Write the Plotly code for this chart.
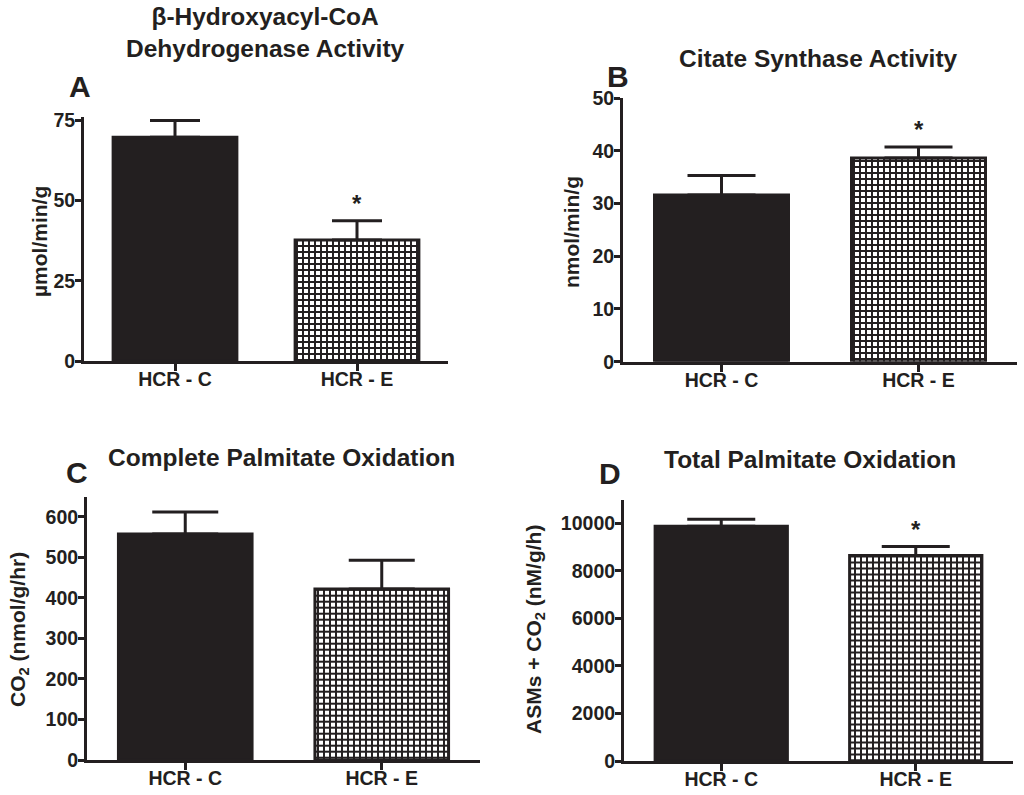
import plotly.graph_objects as go

W, H = 1024, 795
ink = '#231f20'
fam = 'Liberation Sans, Arial, sans-serif'

groups = ['HCR - C', 'HCR - E']

# panel A: beta-hydroxyacyl-CoA dehydrogenase (umol/min/g)
had_mean = [69.7, 37.7]
had_sem = [5.2, 6.0]
had_sig = [False, True]

# panel B: citrate synthase (nmol/min/g)
cs_mean = [31.6, 38.6]
cs_sem = [3.7, 2.1]
cs_sig = [False, True]

# panel C: complete palmitate oxidation, CO2 (nmol/g/hr)
co2_mean = [558, 422]
co2_sem = [54, 71]
co2_sig = [False, False]

# panel D: total palmitate oxidation, ASMs + CO2 (nM/g/h)
tot_mean = [9880, 8640]
tot_sem = [290, 380]
tot_sig = [False, True]

px = lambda x: x / W
py = lambda y: 1 - y / H

panels = [
    dict(mean=had_mean, sem=had_sem, sig=had_sig, xs=(84, 448), ys=(117, 361), yr=[0, 76], dt=25, cap=25,
         ytitle='µmol/min/g', ytx=40, yty=242),
    dict(mean=cs_mean, sem=cs_sem, sig=cs_sig, xs=(623, 1017), ys=(98, 361.7), yr=[0, 50], dt=10, cap=34,
         ytitle='nmol/min/g', ytx=572, yty=232),
    dict(mean=co2_mean, sem=co2_sem, sig=co2_sig, xs=(87, 480), ys=(496.7, 760), yr=[0, 650], dt=100, cap=33,
         ytitle='CO<sub>2</sub> (nmol/g/hr)', ytx=19, yty=630),
    dict(mean=tot_mean, sem=tot_sem, sig=tot_sig, xs=(624, 1013), ys=(499.5, 761), yr=[0, 11000], dt=2000, cap=34,
         ytitle='ASMs + CO<sub>2</sub> (nM/g/h)', ytx=535, yty=630),
]

fig = go.Figure()
annotations = []

for i, p in enumerate(panels):
    n = '' if i == 0 else str(i + 1)
    for j, g in enumerate(groups):
        if j == 0:
            mk = dict(color=ink, line=dict(color=ink, width=3))
        else:
            mk = dict(color='white', line=dict(color=ink, width=3),
                      pattern=dict(shape='+', fgcolor=ink, bgcolor='white', size=6, solidity=0.55,
                                   fillmode='replace'))
        fig.add_trace(go.Bar(
            x=[g], y=[p['mean'][j]], width=0.68, marker=mk,
            error_y=dict(type='data', symmetric=False, array=[p['sem'][j]], arrayminus=[0],
                         color=ink, thickness=3, width=p['cap']),
            xaxis='x' + n, yaxis='y' + n, showlegend=False, hoverinfo='skip'))
    ax = dict(showline=True, linewidth=3, linecolor=ink, ticks='outside', tickwidth=3, tickcolor=ink,
              showgrid=False, zeroline=False, automargin=False,
              tickfont=dict(family=fam, size=19.5, color=ink, weight='bold'))
    fig.layout['xaxis' + n] = dict(ax, domain=[px(p['xs'][0]), px(p['xs'][1])], range=[-0.5, 1.5],
                                   ticklen=7, ticklabelstandoff=-8, anchor='y' + n, type='category',
                                   categoryorder='array', categoryarray=groups)
    fig.layout['yaxis' + n] = dict(ax, domain=[py(p['ys'][1]), py(p['ys'][0])], range=p['yr'],
                                   dtick=p['dt'], ticklen=6, ticklabelstandoff=-4, anchor='x' + n,
                                   tickformat='d')
    annotations.append(dict(text=p['ytitle'], x=px(p['ytx']), y=py(p['yty']), xref='paper', yref='paper',
                            xanchor='center', yanchor='middle', textangle=-90, showarrow=False,
                            font=dict(family=fam, size=21, color=ink, weight='bold')))
    for g, m, s, sig in zip(groups, p['mean'], p['sem'], p['sig']):
        if sig:
            annotations.append(dict(text='*', x=g, y=m + s, xref='x' + n, yref='y' + n,
                                    xanchor='center', yanchor='bottom', yshift=2, showarrow=False,
                                    font=dict(family=fam, size=24, color=ink, weight='bold')))

titles = [
    ('β-Hydroxyacyl-CoA<br>Dehydrogenase Activity', 265, 33),
    ('Citate Synthase Activity', 818, 59),
    ('Complete Palmitate Oxidation', 281, 457),
    ('Total Palmitate Oxidation', 810, 459),
]
for t, x, y in titles:
    annotations.append(dict(text=t, x=px(x), y=py(y), xref='paper', yref='paper', showarrow=False,
                            xanchor='center', yanchor='middle',
                            font=dict(family=fam, size=24.5, color=ink, weight='bold')))

letters = [('A', 80, 87), ('B', 618, 77), ('C', 77, 472), ('D', 610, 473)]
for t, x, y in letters:
    annotations.append(dict(text=t, x=px(x), y=py(y), xref='paper', yref='paper', showarrow=False,
                            xanchor='center', yanchor='middle',
                            font=dict(family=fam, size=30, color=ink, weight='bold')))

fig.update_layout(width=W, height=H, margin=dict(l=0, r=0, t=0, b=0, pad=0),
                  paper_bgcolor='white', plot_bgcolor='white', annotations=annotations,
                  barmode='overlay', hovermode=False)

fig.write_html('out.html', config={'displayModeBar': False},
               post_script="document.body.style.margin='0px';")
